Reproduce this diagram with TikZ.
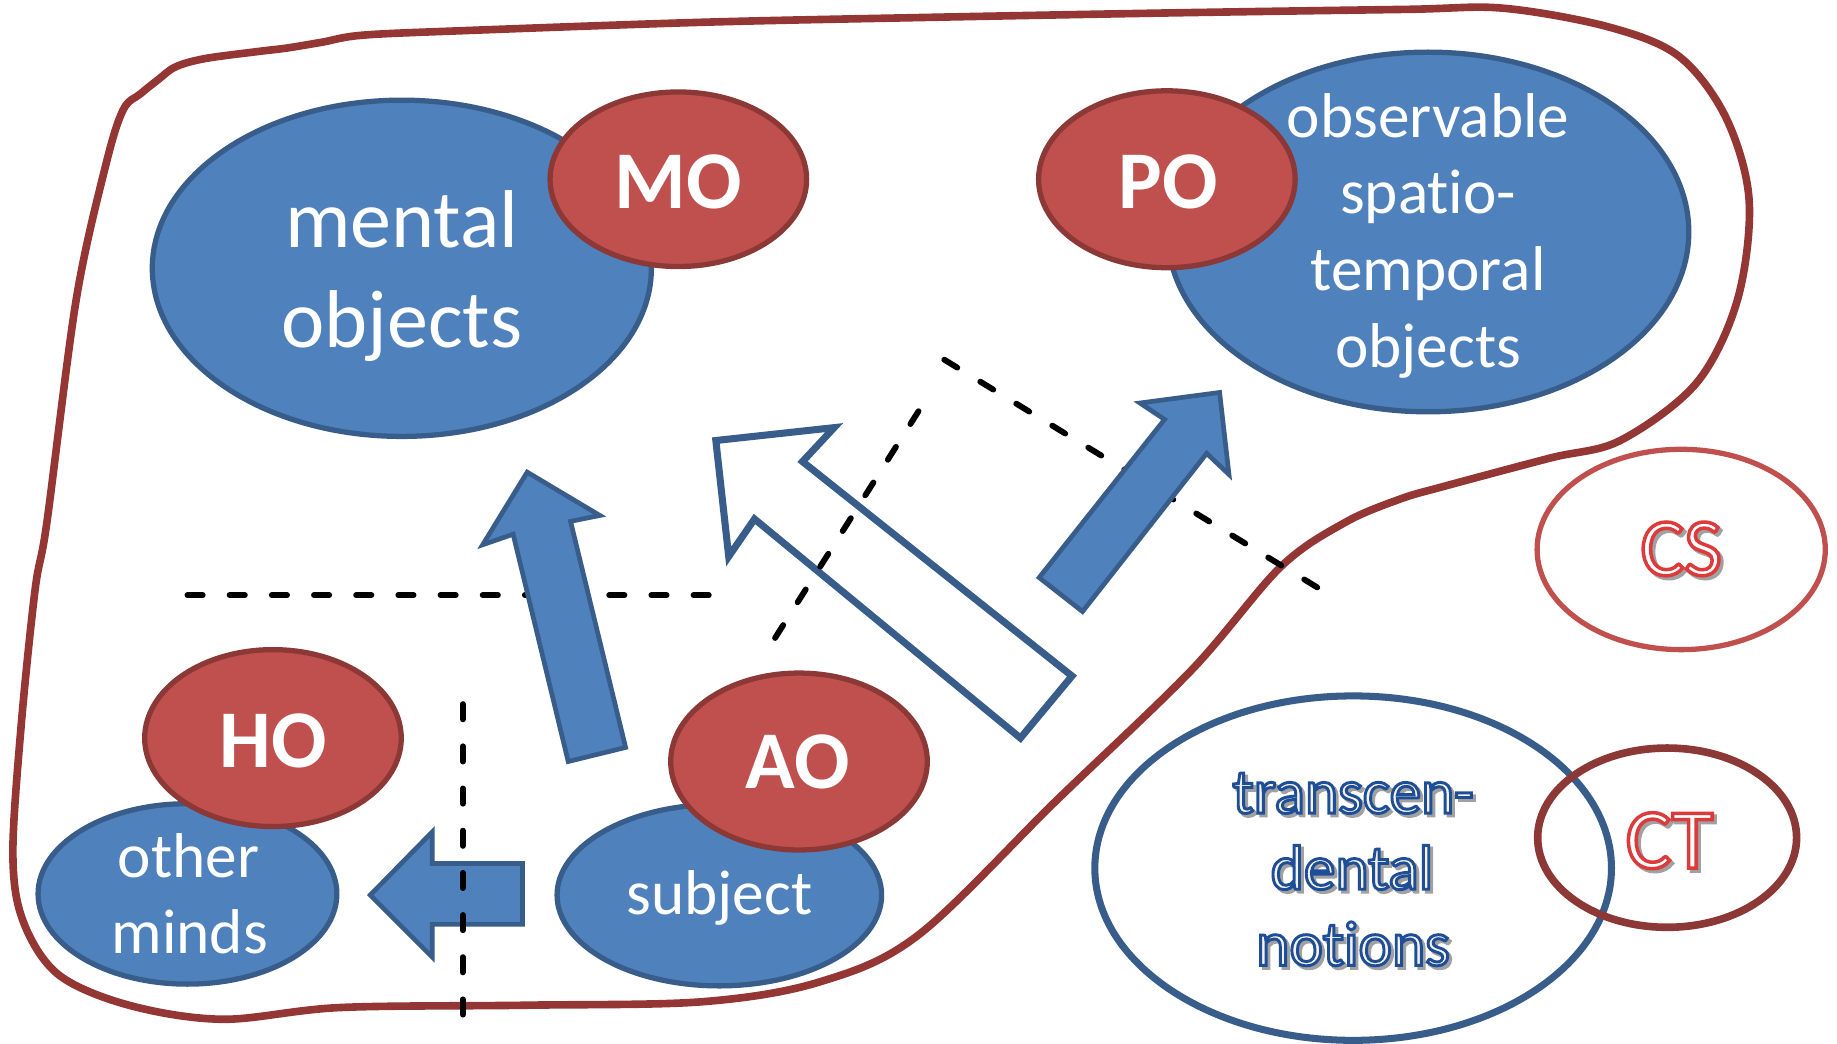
\documentclass[tikz,border=0pt]{standalone}
\usepackage{fontspec}
\setmainfont{Carlito}[Ligatures={NoCommon}]
\usetikzlibrary{shapes.geometric}
\definecolor{blueFill}{HTML}{4F81BD}
\definecolor{blueLine}{HTML}{385D8A}
\definecolor{redFill}{HTML}{C0504D}
\definecolor{redLine}{HTML}{8C3836}
\definecolor{bound}{HTML}{943634}
\definecolor{csRed}{HTML}{C0504D}
\definecolor{cream}{HTML}{F5F3E8}
\definecolor{shade}{HTML}{A0A0A0}
% outlined text: fill colour #1, stroke colour (rgb triple) #2, stroke width #3, text #4
\newcommand\outltxt[4]{{\color{#1}\special{pdf:literal direct 2 Tr #3 w #2 RG}#4\special{pdf:literal direct 0 Tr}}}
\begin{document}
\begin{tikzpicture}[x=1pt,y=-1pt,
  blueell/.style={ellipse, draw=blueLine, fill=blueFill, line width=4.5pt, inner sep=0pt},
  redell/.style={ellipse, draw=redLine, fill=redFill, line width=4.5pt, inner sep=0pt},
  wtxt/.style={text=white, font=\fontsize{54}{65}\selectfont, inner sep=0pt, anchor=base},
  bigtxt/.style={text=white, font=\fontsize{70}{84}\selectfont, inner sep=0pt, anchor=base},
  btxt/.style={text=white, font=\bfseries\fontsize{70}{84}\selectfont, inner sep=0pt, anchor=base},
  otxt/.style={inner sep=0pt, anchor=base},
  blk/.style={draw=blueLine, fill=blueFill, line width=4pt, line join=miter},
  hollow/.style={draw=blueLine, fill=white, line width=6pt, line join=miter},
  dsh/.style={black, line width=5pt, line cap=round, dash pattern=on 13pt off 23pt},
]
\fill[white] (0,0) rectangle (1568,891);
\useasboundingbox (0,0) rectangle (1568,891);

% outer boundary
\draw[bound, line width=6.5pt] plot[smooth cycle, tension=0.55] coordinates {
 (105,94) (120,80) (135,68) (150,57) (175,50) (220,44) (245,41) (275,36) (310,30) (400,26)
 (600,19) (784,15) (1000,11) (1200,8) (1283,7) (1373,23) (1433,48) (1473,100) (1493,171)
 (1483,256) (1448,327) (1383,376) (1323,391) (1233,415) (1195,426) (1148,446) (1093,484)
 (1017,572) (902,683) (784,798) (700,838) (600,855) (450,858) (290,860) (190,870) (110,858)
 (50,832) (20,787) (11,730) (18,620) (30,503) (40,446) (65,256) (90,142)};

% right-hand ellipses
\node[ellipse, draw=csRed, line width=4.5pt, minimum width=246pt, minimum height=171pt, inner sep=0pt] (CS) at (1435,469) {};
\node[ellipse, draw=blueLine, line width=6pt, minimum width=441pt, minimum height=294pt, inner sep=0pt] (TN) at (1155,741) {};
\node[ellipse, draw=redLine, line width=6.5pt, minimum width=221pt, minimum height=153pt, inner sep=0pt] (CT) at (1423,715) {};

% blue and red ellipses
\node[blueell, minimum width=426pt, minimum height=287pt] (mental) at (343,229) {};
\node[redell, minimum width=219pt, minimum height=149pt] (MO) at (579,153) {};
\node[blueell, minimum width=445pt, minimum height=307pt] (obs) at (1219,198) {};
\node[redell, minimum width=219pt, minimum height=151pt] (PO) at (996,153) {};
\node[blueell, minimum width=255pt, minimum height=154pt] (minds) at (160,763) {};
\node[redell, minimum width=219pt, minimum height=151pt] (HO) at (233,630) {};
\node[blueell, minimum width=277pt, minimum height=155pt] (subj) at (614,764) {};
\node[redell, minimum width=219pt, minimum height=151pt] (AO) at (682,650) {};

% dashed lines (behind arrows)
\coordinate (h1) at (160,508); \coordinate (h2) at (607,508);
\coordinate (d1) at (806,307); \coordinate (d2) at (1127,503);
\coordinate (e1) at (784,351); \coordinate (e2) at (660,547);
\coordinate (v1) at (395,601); \coordinate (v2) at (395,870);
\draw[dsh] (h1) -- (h2);
\draw[dsh] (d1) -- (d2);

% block arrows
\draw[blk] (450,403) -- (512,440) -- (487,445) -- (534,638) -- (485,650) -- (438,456) -- (412,465) -- cycle;
\draw[hollow] (611,376) -- (712,365) -- (685,394) -- (915,577) -- (871,630) -- (644,443) -- (622,475) -- cycle;
\draw[blk] (1041,335) -- (1049,405) -- (1030,387) -- (924,522) -- (887,493) -- (994,358) -- (973,344) -- cycle;
\draw[blk] (316,764) -- (369,710) -- (369,737) -- (446,737) -- (446,789) -- (369,789) -- (369,817) -- cycle;

\draw[dsh] (e1) -- (e2);
\draw[dsh] (v1) -- (v2);

% texts
\node[bigtxt] (tm1) at (343,211) {mental};
\node[bigtxt] (tm2) at (343,297) {objects};
\node[btxt] (tMO) at (579,178) {MO};
\node[btxt] (tPO) at (997,178) {PO};
\node[wtxt] (to1) at (1219,117) {observable};
\node[wtxt] (to2) at (1219,182) {spatio-};
\node[wtxt] (to3) at (1219,248) {temporal};
\node[wtxt] (to4) at (1219,314) {objects};
\node[btxt] (tHO) at (233,655) {HO};
\node[btxt] (tAO) at (681,673) {AO};
\node[wtxt] (tom1) at (161,749) {other};
\node[wtxt] (tom2) at (162,814) {minds};
\node[wtxt] (tsub) at (614,781) {subject};

% outlined texts with shadow
\foreach \x/\y/\t/\n in {1155/694/transcen-/a, 1154/759/dental/b, 1155/824/notions/c}{
  \node[otxt, font=\fontsize{54}{65}\selectfont] (sh\n) at (\x+2.5,\y+2.5) {\outltxt{shade}{0.63 0.63 0.63}{2.5}{\t}};
  \node[otxt, font=\fontsize{54}{65}\selectfont] (tn\n) at (\x,\y) {\outltxt{cream}{0.122 0.306 0.6}{2.5}{\t}};
}
\node[otxt, font=\fontsize{70}{80}\selectfont] (shCS) at (1437.5,493.5) {\outltxt{shade}{0.63 0.63 0.63}{3}{CS}};
\node[otxt, font=\fontsize{70}{80}\selectfont] (tCS) at (1435,491) {\outltxt{white}{0.867 0.231 0.231}{3}{CS}};
\node[otxt, font=\fontsize{73}{84}\selectfont] (shCT) at (1427.5,743.5) {\outltxt{shade}{0.63 0.63 0.63}{3}{CT}};
\node[otxt, font=\fontsize{73}{84}\selectfont] (tCT) at (1425,741) {\outltxt{white}{0.867 0.231 0.231}{3}{CT}};
\end{tikzpicture}
\end{document}
